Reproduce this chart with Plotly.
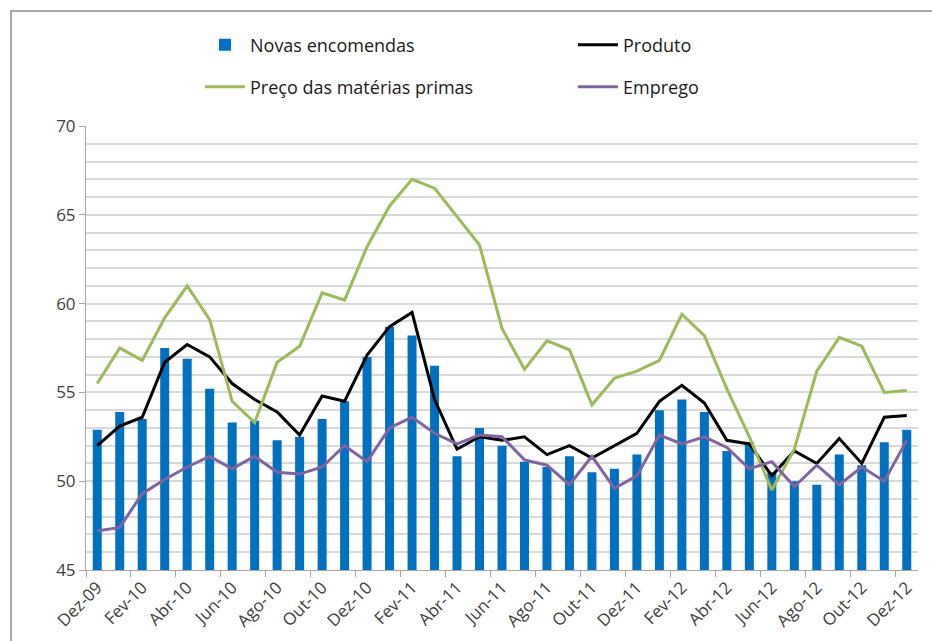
import plotly.graph_objects as go

months = ["Dez-09","Jan-10","Fev-10","Mar-10","Abr-10","Mai-10","Jun-10","Jul-10","Ago-10","Set-10",
          "Out-10","Nov-10","Dez-10","Jan-11","Fev-11","Mar-11","Abr-11","Mai-11","Jun-11","Jul-11",
          "Ago-11","Set-11","Out-11","Nov-11","Dez-11","Jan-12","Fev-12","Mar-12","Abr-12","Mai-12",
          "Jun-12","Jul-12","Ago-12","Set-12","Out-12","Nov-12","Dez-12"]

novas_encomendas = [52.9,53.9,53.5,57.5,56.9,55.2,53.3,53.4,52.3,52.5,53.5,54.5,57.0,58.7,58.2,56.5,51.4,53.0,
                    52.0,51.1,50.8,51.4,50.5,50.7,51.5,54.0,54.6,53.9,51.7,52.2,50.5,50.0,49.8,51.5,50.9,52.2,52.9]
produto = [52.0,53.1,53.6,56.7,57.7,57.0,55.5,54.6,53.9,52.6,54.8,54.5,57.1,58.7,59.5,54.6,51.8,52.5,52.3,
           52.5,51.5,52.0,51.3,52.0,52.7,54.5,55.4,54.4,52.3,52.1,50.3,51.7,51.0,52.4,51.0,53.6,53.7]
preco_materias = [55.5,57.5,56.8,59.2,61.0,59.1,54.5,53.3,56.7,57.6,60.6,60.2,63.2,65.5,67.0,66.5,64.9,63.3,
                  58.6,56.3,57.9,57.4,54.3,55.8,56.2,56.8,59.4,58.2,55.2,52.5,49.5,51.8,56.2,58.1,57.6,55.0,55.1]
emprego = [47.2,47.4,49.3,50.1,50.8,51.4,50.7,51.4,50.5,50.4,50.8,52.0,51.1,53.0,53.6,52.7,52.1,52.6,52.5,
           51.2,50.9,49.8,51.4,49.6,50.3,52.6,52.1,52.5,51.9,50.7,51.1,49.7,50.9,49.8,50.8,50.0,52.3]

y_ticks = [45, 50, 55, 60, 65, 70]

FONT = "Liberation Sans Narrow, Open Sans, Arial, sans-serif"
W, H = 932, 641
L, R, T, B = 86, 14, 126, 71
pw, ph = W - L - R, H - T - B

def px_x(p):
    return (p - L) / pw

def px_y(p):
    return (H - B - p) / ph

fig = go.Figure()
fig.add_trace(go.Bar(x=months, y=novas_encomendas, name="Novas encomendas",
                     marker=dict(color="#0070C0", line=dict(width=0)), legend="legend"))
fig.add_trace(go.Scatter(x=months, y=produto, name="Produto", mode="lines",
                         line=dict(color="#000000", width=3), legend="legend2"))
fig.add_trace(go.Scatter(x=months, y=preco_materias, name="Preço das matérias primas", mode="lines",
                         line=dict(color="#9BBB59", width=3), legend="legend3"))
fig.add_trace(go.Scatter(x=months, y=emprego, name="Emprego", mode="lines",
                         line=dict(color="#8064A2", width=3), legend="legend4"))

def leg(xp, yp):
    return dict(orientation="v", xanchor="left", yanchor="middle", itemwidth=40,
                x=px_x(xp), y=px_y(yp), bgcolor="rgba(0,0,0,0)",
                font=dict(family=FONT, size=18, color="#1a1a1a"))

fig.update_layout(
    width=W, height=H,
    margin=dict(l=L, r=R, t=T, b=B, pad=0, autoexpand=False),
    paper_bgcolor="white", plot_bgcolor="white",
    bargap=0.6,
    showlegend=True,
    legend=leg(200, 45),
    legend2=leg(573, 45),
    legend3=leg(200, 87),
    legend4=leg(573, 87),
    font=dict(family=FONT, size=16, color="#404040"),
    xaxis=dict(type="category", tickmode="linear", dtick=2, tick0=0, tickson="boundaries",
               ticks="outside", ticklen=6, tickcolor="#A6A6A6", tickangle=-45,
               showline=True, linecolor="#A6A6A6", linewidth=1, showgrid=False,
               tickfont=dict(family=FONT, size=17, color="#404040"), range=[-0.5, 36.5]),
    yaxis=dict(range=[45, 70], tickvals=y_ticks, ticks="outside", ticklen=6, tickcolor="#A6A6A6",
               showline=True, linecolor="#A6A6A6", linewidth=1, showgrid=True, gridcolor="#D9D9D9",
               gridwidth=1.5, zeroline=False,
               minor=dict(dtick=1, showgrid=True, gridcolor="#D9D9D9", gridwidth=1.5),
               tickfont=dict(family=FONT, size=17, color="#404040")),
    shapes=[dict(type="rect", xref="paper", yref="paper",
                 x0=px_x(11), x1=px_x(960), y0=px_y(700), y1=px_y(11),
                 line=dict(color="#8C8C8C", width=1.5), fillcolor="rgba(0,0,0,0)", layer="below")],
)

fig.write_html("out.html", config={"displayModeBar": False},
               post_script="document.body.style.margin='0';document.body.style.overflow='hidden';")
